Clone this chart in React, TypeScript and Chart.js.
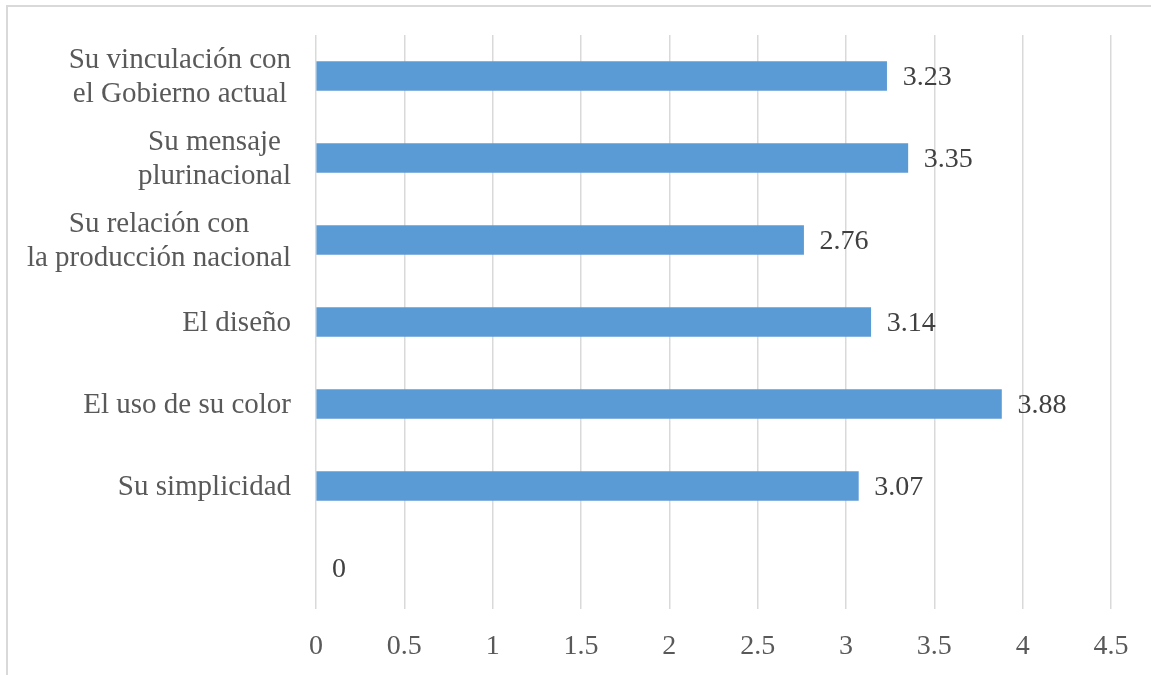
import React, { useEffect, useRef } from "react";
import { Chart, registerables } from "chart.js";

Chart.register(...registerables);

const categories: (string | string[])[] = [
  ["Su vinculación con", "el Gobierno actual"],
  ["Su mensaje", "plurinacional"],
  ["Su relación con", "la producción nacional"],
  "El diseño",
  "El uso de su color",
  "Su simplicidad",
  "",
];
const values: number[] = [3.23, 3.35, 2.76, 3.14, 3.88, 3.07, 0];
const axisMax = 4.5;
const axisStep = 0.5;

const FONT = "'Liberation Serif', 'Times New Roman', serif";

const categoryLabelPlugin = {
  id: "categoryLabels",
  afterDraw(chart: any) {
    const ctx = chart.ctx;
    const y = chart.scales.y;
    const right = chart.chartArea.left - 25;
    const lineH = 34;
    ctx.save();
    ctx.font = `29px ${FONT}`;
    ctx.fillStyle = "#595959";
    ctx.textBaseline = "middle";
    ctx.textAlign = "center";
    categories.forEach((lab, i) => {
      const lines = Array.isArray(lab) ? lab : [lab];
      if (!lines.join("")) return;
      const blockW = Math.max(...lines.map((l) => ctx.measureText(l).width));
      const cx = right - blockW / 2;
      const cy = y.getPixelForValue(i) + 1;
      lines.forEach((l, j) => {
        ctx.fillText(l, cx, cy + (j - (lines.length - 1) / 2) * lineH);
      });
    });
    ctx.restore();
  },
};

const valueLabelPlugin = {
  id: "valueLabels",
  afterDatasetsDraw(chart: any) {
    const ctx = chart.ctx;
    const meta = chart.getDatasetMeta(0);
    ctx.save();
    ctx.font = `28px ${FONT}`;
    ctx.fillStyle = "#404040";
    ctx.textBaseline = "middle";
    ctx.textAlign = "left";
    meta.data.forEach((el: any, i: number) => {
      ctx.fillText(String(values[i]), el.x + 16, el.y + 2);
    });
    ctx.restore();
  },
};

export default function App() {
  const ref = useRef<HTMLCanvasElement>(null);
  useEffect(() => {
    if (!ref.current) return;
    const chart = new Chart(ref.current, {
      type: "bar",
      data: {
        labels: categories.map((c) => (Array.isArray(c) ? c.join(" ") : c)),
        datasets: [
          {
            data: values,
            backgroundColor: values.map((v) => (v === 0 ? "rgba(0,0,0,0)" : "#5b9bd5")),
            borderWidth: 0,
            barThickness: 29,
          },
        ],
      },
      options: {
        indexAxis: "y",
        animation: false,
        responsive: false,
        maintainAspectRatio: false,
        layout: { padding: { top: 35, right: 40, left: 0, bottom: 0 } },
        plugins: {
          legend: { display: false },
          tooltip: { enabled: false },
          title: { display: false },
        },
        scales: {
          x: {
            type: "linear",
            min: 0,
            max: axisMax,
            ticks: {
              stepSize: axisStep,
              color: "#595959",
              font: { family: FONT, size: 28 },
              padding: 21,
              callback: (v: any) => String(Number(v)),
            },
            grid: { color: "#d9d9d9", lineWidth: 1.5, drawTicks: false },
            border: { display: false },
            afterFit: (s: any) => {
              s.height = 66;
            },
          },
          y: {
            type: "category",
            ticks: { display: false },
            grid: { display: false, drawTicks: false },
            border: { display: false },
            afterFit: (s: any) => {
              s.width = 316;
            },
          },
        },
      },
      plugins: [categoryLabelPlugin, valueLabelPlugin],
    } as any);
    return () => chart.destroy();
  }, []);

  return (
    <div style={{ position: "fixed", left: 0, top: 0, width: 1151, height: 675, overflow: "hidden", background: "#fff" }}>
      <div
        style={{
          position: "absolute",
          left: 6,
          top: 5,
          width: 1200,
          height: 700,
          borderLeft: "2px solid #d9d9d9",
          borderTop: "2px solid #d9d9d9",
        }}
      />
      <canvas ref={ref} width={1151} height={675} style={{ position: "absolute", left: 0, top: 0, width: 1151, height: 675 }} />
    </div>
  );
}
